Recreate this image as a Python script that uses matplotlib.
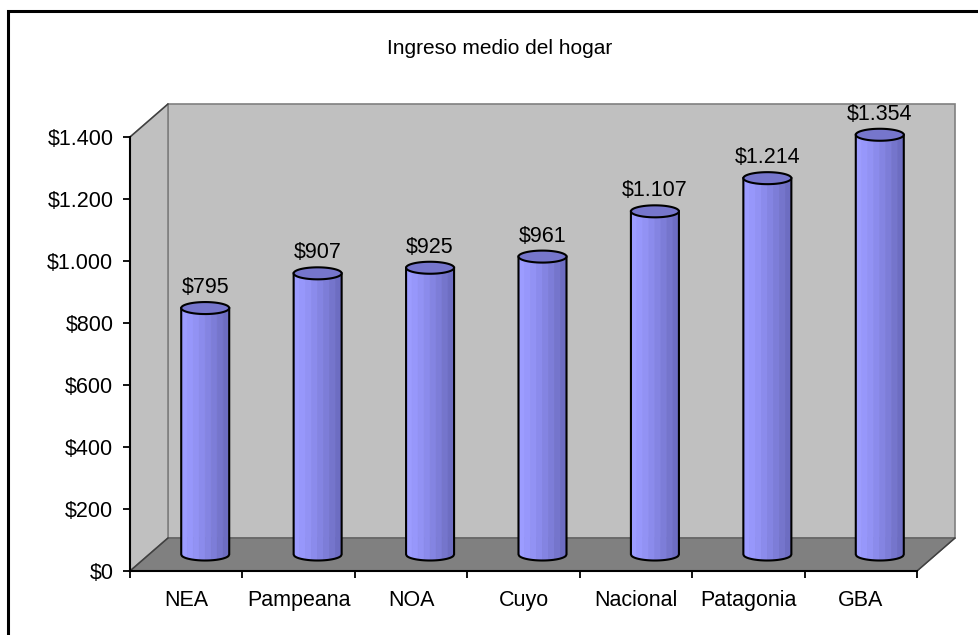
import numpy as np
import matplotlib
matplotlib.use("Agg")
import matplotlib.pyplot as plt
from matplotlib.patches import Polygon, Rectangle
from matplotlib.transforms import IdentityTransform

regions = ['NEA', 'Pampeana', 'NOA', 'Cuyo', 'Nacional', 'Patagonia', 'GBA']
income = [795, 907, 925, 961, 1107, 1214, 1354]
y_ticks = [0, 200, 400, 600, 800, 1000, 1200, 1400]
title = 'Ingreso medio del hogar'

plt.rcParams['font.family'] = ['Liberation Sans', 'DejaVu Sans']

W, H = 979, 635
fig = plt.figure(figsize=(W / 100, H / 100), dpi=100)

# front plane of the 3d box, in pixels
left, right, bottom, top = 130, 917, 571, 137
ax = fig.add_axes([left / W, (H - bottom) / H, (right - left) / W, (bottom - top) / H])
n = len(regions)
ax.set_xlim(-0.5, n - 0.5)
ax.set_ylim(0, 1400)
ax.patch.set_visible(False)

DX, DY = 38, 33  # depth of the box in pixels


def px(x, y, d=0.0):
    p = ax.transData.transform((x, y))
    return (p[0] + d * DX, p[1] + d * DY)


ident = IdentityTransform()

# back wall
wall = [px(-0.5, 0, 1), px(n - 0.5, 0, 1), px(n - 0.5, 1400, 1), px(-0.5, 1400, 1)]
ax.add_patch(Polygon(wall, closed=True, facecolor='#c0c0c0', edgecolor='#808080',
                     lw=1.2, transform=ident, clip_on=False, zorder=1))
# side wall
side = [px(-0.5, 0, 0), px(-0.5, 0, 1), px(-0.5, 1400, 1), px(-0.5, 1400, 0)]
ax.add_patch(Polygon(side, closed=True, facecolor='#c0c0c0', edgecolor='#808080',
                     lw=1.2, transform=ident, clip_on=False, zorder=1))
# floor
floor = [px(-0.5, 0, 0), px(n - 0.5, 0, 0), px(n - 0.5, 0, 1), px(-0.5, 0, 1)]
ax.add_patch(Polygon(floor, closed=True, facecolor='#808080', edgecolor='#606060',
                     lw=1.0, transform=ident, clip_on=False, zorder=2))

# cylinders
band_cols = ['#9c9cff', '#9797fb', '#9292f4', '#8b8bec', '#8484e2', '#7d7dd8',
             '#7575cc', '#6d6dc2']
half_w = 24
eh = 6
for i, v in enumerate(income):
    cx, yb = px(i, 0, 0.5)
    _, yt = px(i, v, 0.5)
    edges = np.linspace(cx - half_w, cx + half_w, len(band_cols) + 1)
    for k, c in enumerate(band_cols):
        xs = np.linspace(edges[k], edges[k + 1], 8)
        ys = yb - eh * np.sqrt(np.clip(1 - ((xs - cx) / half_w) ** 2, 0, 1))
        pts = [(edges[k], yt)] + list(zip(xs, ys)) + [(edges[k + 1], yt)]
        ax.add_patch(Polygon(pts, closed=True, facecolor=c, edgecolor=c, lw=0.5,
                             transform=ident, clip_on=False, zorder=3))
    # outline of the body
    xs = np.linspace(cx - half_w, cx + half_w, 60)
    ys = yb - eh * np.sqrt(np.clip(1 - ((xs - cx) / half_w) ** 2, 0, 1))
    ax.plot(np.r_[cx - half_w, xs, cx + half_w], np.r_[yt, ys, yt], color='black',
            lw=1.5, transform=ident, clip_on=False, zorder=4)
    # top ellipse
    t = np.linspace(0, 2 * np.pi, 80)
    top_pts = np.c_[cx + half_w * np.cos(t), yt + eh * np.sin(t)]
    ax.add_patch(Polygon(top_pts, closed=True, facecolor='#7676cc', edgecolor='black',
                         lw=1.5, transform=ident, clip_on=False, zorder=5))
    ax.annotate('$' + f'{v:,}'.replace(',', '.'), xy=(i, v),
                xytext=(DX / 2, DY / 2 + 10), textcoords='offset pixels',
                ha='center', va='bottom', fontsize=15.5, zorder=6)

# depth edges from the front plane
for p0, p1 in [(px(-0.5, 0, 0), px(-0.5, 0, 1)), (px(-0.5, 1400, 0), px(-0.5, 1400, 1)),
               (px(n - 0.5, 0, 0), px(n - 0.5, 0, 1))]:
    ax.plot([p0[0], p1[0]], [p0[1], p1[1]], color='#404040', lw=1.0,
            transform=ident, clip_on=False, zorder=2)

# axes
for s in ['top', 'right']:
    ax.spines[s].set_visible(False)
for s in ['left', 'bottom']:
    ax.spines[s].set_color('black')
    ax.spines[s].set_linewidth(1.5)
    ax.spines[s].set_zorder(7)

ax.set_yticks(y_ticks)
ax.set_yticklabels(['$' + f'{t:,}'.replace(',', '.') for t in y_ticks], fontsize=15.5)
ax.tick_params(axis='y', direction='out', length=5, width=1.3, pad=7)

ax.set_xticks(np.arange(n + 1) - 0.5)
ax.set_xticklabels([])
ax.tick_params(axis='x', which='major', direction='out', length=5, width=1.3)
ax.set_xticks(np.arange(n), minor=True)
ax.set_xticklabels(regions, minor=True, fontsize=15.5)
ax.tick_params(axis='x', which='minor', length=0, pad=14)

fig.text(500 / W, 1 - 48 / H, title, ha='center', va='center', fontsize=15)

# outer chart border (cut by the image edge at right and bottom)
fig.patches.append(Rectangle((8 / W, -0.1), 1.2, (H - 11) / H + 0.1, fill=False,
                             edgecolor='black', lw=2.2, transform=fig.transFigure))

fig.savefig('out.png', dpi=100)
